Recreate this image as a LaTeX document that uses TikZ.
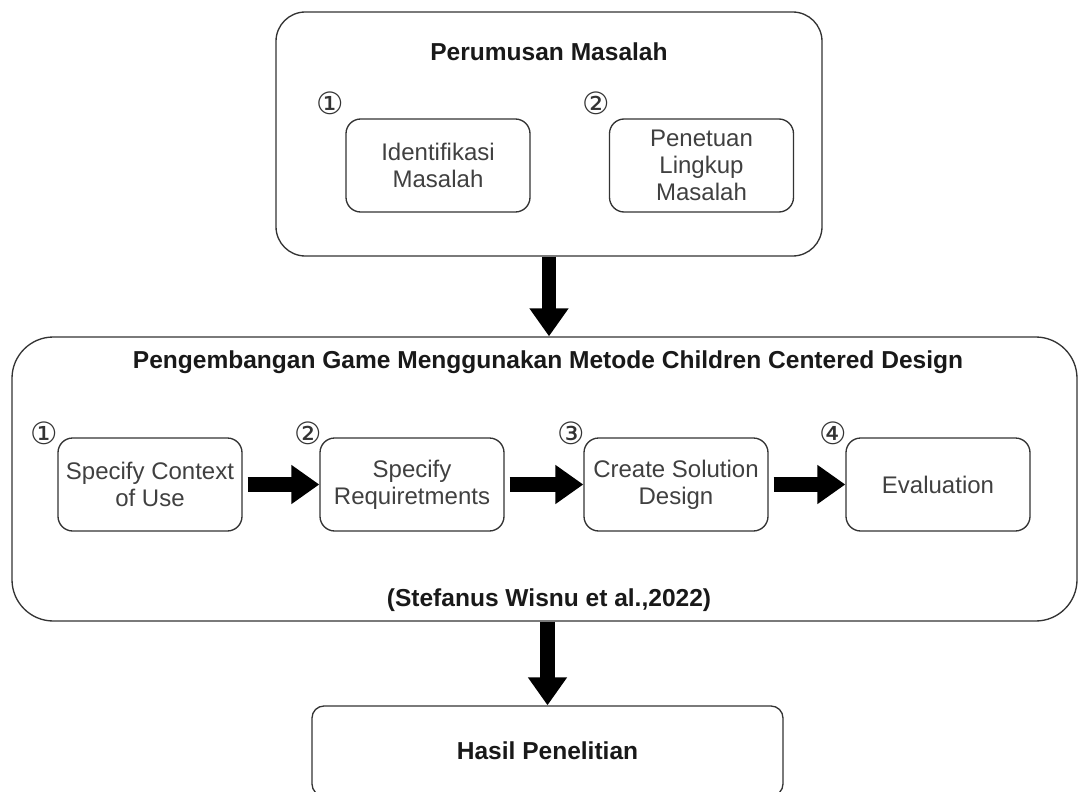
\documentclass[tikz,border=0pt]{standalone}
\usepackage{fontspec}
\setmainfont{Liberation Sans}
\newfontfamily\circfont{DejaVu Sans}
\usetikzlibrary{arrows.meta, positioning, shapes}

\tikzset{
	groupbox/.style={draw=black!80, line width=1pt, inner sep=0pt},
	stepbox/.style={draw=black!80, line width=1pt, rounded corners=11pt,
		minimum width=138pt, minimum height=69.75pt, align=center,
		text=black!75, font=\fontsize{18}{20}\selectfont},
	titletext/.style={font=\fontsize{18.4}{21}\selectfont\bfseries, text=black!90},
	numtext/.style={font=\circfont\fontsize{23}{23}\selectfont, text=black!80, inner sep=0pt},
	bigarrow/.style={line width=11pt, -{Triangle[width=28pt,length=21pt]}},
}

\begin{document}
\begin{tikzpicture}[x=0.75pt, y=-0.75pt]
	
	\useasboundingbox (0, 0) rectangle (1078, 792);
	
	% Perumusan Masalah
	\node[groupbox, rounded corners=22pt, minimum width=409.5pt, minimum height=183pt] (perumusan) at (549, 134) {};
	\node[titletext] (perumusantitle) at (549, 52) {Perumusan Masalah};
	\node[stepbox] (identifikasi) at (438, 165.5) {Identifikasi\\Masalah};
	\node[stepbox] (lingkup) at (701.5, 165.5) {Penetuan\\Lingkup\\Masalah};
	\node[numtext] (nA) at (330, 103) {①};
	\node[numtext] (nB) at (596, 103) {②};
	
	% Pengembangan Game
	\node[groupbox, rounded corners=31pt, minimum width=798.75pt, minimum height=213pt] (pengembangan) at (544.5, 479) {};
	\node[titletext] (pengembangantitle) at (548, 362) {Pengembangan Game Menggunakan Metode Children Centered Design};
	\node[stepbox] (context) at (150, 484.5) {Specify Context\\of Use};
	\node[stepbox] (requirement) at (412, 484.5) {Specify\\Requiretments};
	\node[stepbox] (solution) at (676, 484.5) {Create Solution\\Design};
	\node[stepbox] (evaluation) at (938, 484.5) {Evaluation};
	\node[numtext] (n1) at (44, 433) {①};
	\node[numtext] (n2) at (308, 433) {②};
	\node[numtext] (n3) at (571, 433) {③};
	\node[numtext] (n4) at (833, 433) {④};
	\node[titletext] (sumber) at (549, 600) {(Stefanus Wisnu et al.,2022)};
	
	% Hasil Penelitian
	\node[groupbox, rounded corners=9pt, minimum width=353.25pt, minimum height=67.5pt] (hasil) at (547.5, 751) {};
	\node[titletext] (hasiltitle) at (547.5, 751) {Hasil Penelitian};
	
	% panah
	\draw[bigarrow] (perumusan.south) -- (perumusan.south |- pengembangan.north);
	\draw[bigarrow] (pengembangan.south -| hasil.north) -- (hasil.north);
	\draw[bigarrow, shorten <=3.75pt] (context) -- (requirement);
	\draw[bigarrow, shorten <=3.75pt] (requirement) -- (solution);
	\draw[bigarrow, shorten <=3.75pt] (solution) -- (evaluation);
	
\end{tikzpicture}
\end{document}
